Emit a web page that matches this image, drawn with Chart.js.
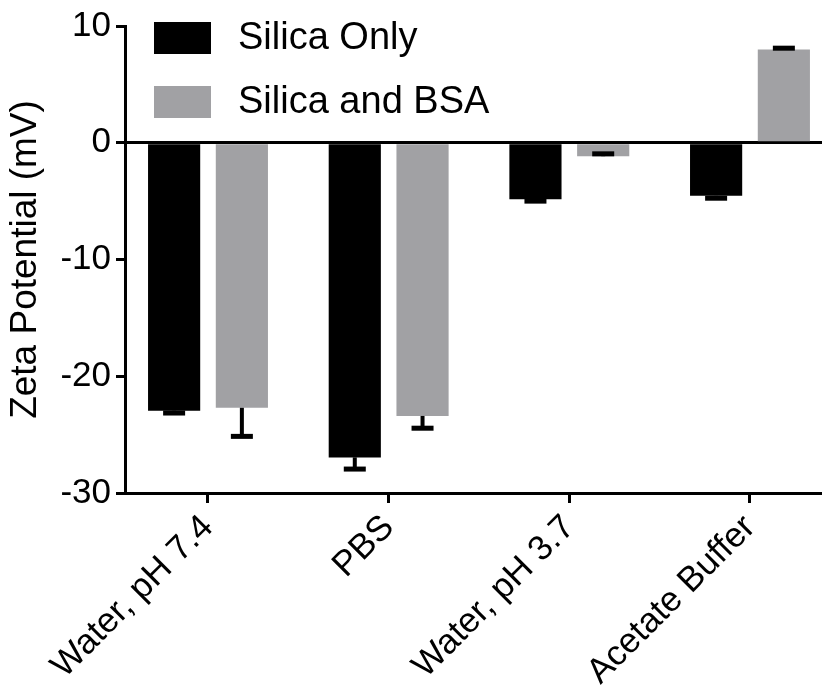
<!DOCTYPE html>
<html>
<head>
<meta charset="utf-8">
<script src="https://cdn.jsdelivr.net/npm/chart.js@4.4.0/dist/chart.umd.min.js"></script>
<style>
html,body{margin:0;padding:0;background:#fff;}
canvas{display:block;}
</style>
</head>
<body>
<canvas id="c" width="822" height="698"></canvas>
<script>
const categories = ['Water, pH 7.4', 'PBS', 'Water, pH 3.7', 'Acetate Buffer'];
const seriesNames = ['Silica Only', 'Silica and BSA'];
const silicaOnly = [-22.95, -26.95, -4.85, -4.55];
const silicaOnlyErrEnd = [-23.15, -27.95, -5.0, -4.75];
const silicaBSA = [-22.7, -23.4, -1.15, 7.98];
const silicaBSAErrEnd = [-25.15, -24.45, -0.95, 8.1];
const yTicks = [10, 0, -10, -20, -30];

const FONT = "'Liberation Sans', Arial, sans-serif";
const errEnds = [silicaOnlyErrEnd, silicaBSAErrEnd];

const errorBars = {
  id: 'errorBars',
  afterDatasetsDraw(chart) {
    const ctx = chart.ctx;
    const ys = chart.scales.y;
    ctx.save();
    ctx.fillStyle = '#000';
    chart.data.datasets.forEach((ds, di) => {
      const meta = chart.getDatasetMeta(di);
      meta.data.forEach((bar, i) => {
        const yEnd = ys.getPixelForValue(errEnds[di][i]);
        const y0 = bar.y;
        const top = Math.min(y0, yEnd), h = Math.abs(yEnd - y0);
        ctx.fillRect(bar.x - 2, top, 4, h);
        ctx.fillRect(bar.x - 11, yEnd - 2.5, 22, 5);
      });
    });
    ctx.restore();
  }
};

const legendBox = {
  id: 'legendBox',
  afterDraw(chart) {
    const ctx = chart.ctx;
    ctx.save();
    chart.data.datasets.forEach((ds, i) => {
      const y = 22 + i * 64;
      ctx.fillStyle = ds.backgroundColor;
      ctx.fillRect(154, y, 57, 32);
      ctx.fillStyle = '#000';
      ctx.font = '38px ' + FONT;
      ctx.textBaseline = 'middle';
      ctx.textAlign = 'left';
      ctx.fillText(ds.label, 238, y + 17);
    });
    ctx.restore();
  }
};

new Chart(document.getElementById('c'), {
  type: 'bar',
  data: {
    datasets: [
      { label: seriesNames[0], data: silicaOnly.map((v, i) => ({x: i, y: v})), backgroundColor: '#000000' },
      { label: seriesNames[1], data: silicaBSA.map((v, i) => ({x: i, y: v})), backgroundColor: '#a1a1a4' }
    ]
  },
  options: {
    responsive: false,
    animation: false,
    categoryPercentage: 0.75,
    barPercentage: 0.77,
    layout: { padding: { top: 25, left: 0, right: 0, bottom: 0 } },
    plugins: { legend: { display: false }, tooltip: { enabled: false } },
    scales: {
      x: {
        type: 'linear',
        offset: false,
        min: -0.4594,
        max: 3.3986,
        afterBuildTicks: s => { s.ticks = categories.map((c, i) => ({ value: i })); },
        afterFit: s => { s.height = 205; },
        ticks: {
          autoSkip: false,
          minRotation: 45,
          maxRotation: 45,
          color: '#000',
          padding: 4,
          font: { family: FONT, size: 35 },
          callback: v => categories[v]
        },
        grid: { offset: false, drawOnChartArea: false, tickLength: 10, tickWidth: 3, tickColor: '#000' },
        border: { display: true, color: '#000', width: 3 }
      },
      y: {
        min: -30,
        max: 10,
        afterBuildTicks: s => { s.ticks = yTicks.map(v => ({ value: v })); },
        afterFit: s => { s.width = 125; },
        ticks: { color: '#000', padding: 5, font: { family: FONT, size: 35 } },
        grid: {
          color: c => (c.tick && c.tick.value === 0) ? '#000' : 'rgba(0,0,0,0)',
          lineWidth: 3,
          tickColor: '#000',
          tickWidth: 3,
          tickLength: 9
        },
        border: { display: true, color: '#000', width: 3 },
        title: { display: true, text: 'Zeta Potential (mV)', color: '#000', font: { family: FONT, size: 37 }, padding: { top: 4, bottom: 0 } }
      }
    }
  },
  plugins: [errorBars, legendBox]
});
</script>
</body>
</html>
